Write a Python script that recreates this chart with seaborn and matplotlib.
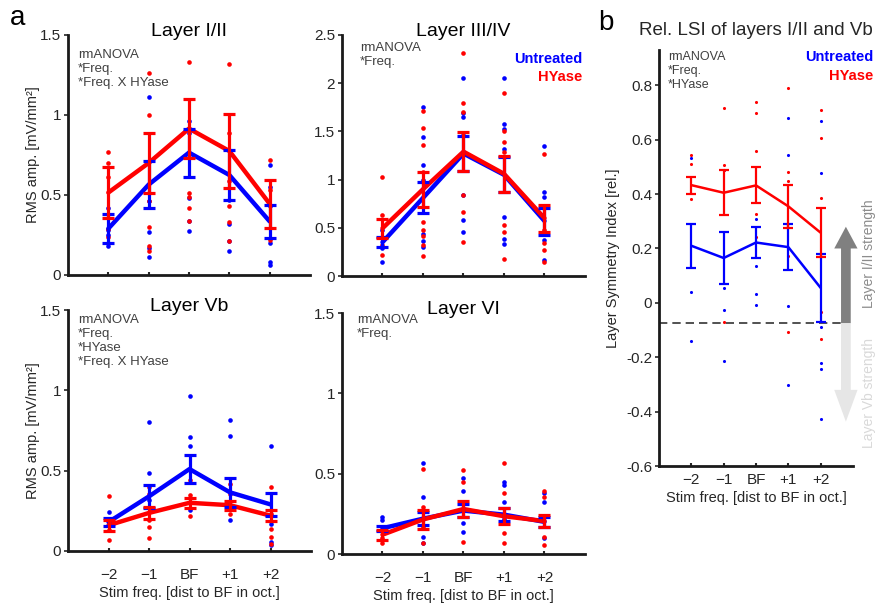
import matplotlib
matplotlib.use("Agg")
import pandas as pd
import matplotlib.pyplot as plt
import seaborn as sns
from matplotlib.patches import FancyArrow

# ===== DATA =====
FREQ_POS = [1, 2, 3, 4, 5]
FREQ_LABELS = ["\u22122", "\u22121", "BF", "+1", "+2"]

# Layer I/II
L12_UNT_MEAN = [0.29, 0.565, 0.765, 0.625, 0.335]
L12_UNT_SEM = [0.09, 0.145, 0.15, 0.155, 0.105]
L12_HYA_MEAN = [0.515, 0.70, 0.915, 0.775, 0.445]
L12_HYA_SEM = [0.16, 0.19, 0.185, 0.23, 0.15]
L12_UNT_PTS = [[0.42, 0.28, 0.25, 0.20, 0.18],
               [1.11, 0.71, 0.51, 0.46, 0.27, 0.17, 0.115],
               [0.96, 0.885, 0.48, 0.34, 0.275],
               [0.78, 0.47, 0.32, 0.21, 0.15],
               [0.69, 0.55, 0.43, 0.20, 0.083, 0.06]]
L12_HYA_PTS = [[0.77, 0.70, 0.61, 0.29, 0.24],
               [1.26, 1.00, 0.46, 0.30, 0.18, 0.15],
               [1.33, 0.51, 0.49, 0.42, 0.34],
               [1.32, 0.885, 0.59, 0.43, 0.33, 0.21],
               [0.72, 0.53, 0.22]]

# Layer III/IV
L34_UNT_MEAN = [0.35, 0.81, 1.27, 1.05, 0.57]
L34_UNT_SEM = [0.05, 0.16, 0.18, 0.18, 0.14]
L34_HYA_MEAN = [0.495, 0.90, 1.29, 1.06, 0.60]
L34_HYA_SEM = [0.10, 0.18, 0.20, 0.19, 0.14]
L34_UNT_PTS = [[0.48, 0.29, 0.15],
               [1.75, 1.44, 1.15, 1.00, 0.44, 0.36, 0.30],
               [2.05, 1.69, 1.65, 1.46, 0.84, 0.58, 0.46],
               [2.05, 1.58, 1.52, 1.32, 0.615, 0.38, 0.33],
               [1.35, 0.87, 0.82, 0.37, 0.166]]
L34_HYA_PTS = [[1.03, 0.63, 0.32, 0.22],
               [1.71, 1.54, 1.36, 1.08, 0.56, 0.48, 0.41, 0.32, 0.21],
               [2.31, 1.79, 1.70, 0.84, 0.66, 0.35],
               [1.90, 1.50, 1.39, 1.29, 0.53, 0.46, 0.18],
               [1.27, 0.48, 0.34, 0.27, 0.15]]

# Layer Vb
LVB_UNT_MEAN = [0.18, 0.34, 0.51, 0.365, 0.29]
LVB_UNT_SEM = [0.025, 0.07, 0.085, 0.09, 0.07]
LVB_HYA_MEAN = [0.16, 0.237, 0.30, 0.285, 0.22]
LVB_HYA_SEM = [0.035, 0.037, 0.03, 0.028, 0.033]
LVB_UNT_PTS = [[0.243, 0.175],
               [0.80, 0.486, 0.316, 0.20],
               [0.966, 0.71, 0.652, 0.253],
               [0.815, 0.715, 0.19],
               [0.652, 0.17, 0.056, 0.035]]
LVB_HYA_PTS = [[0.34, 0.19, 0.13, 0.07],
               [0.40, 0.357, 0.19, 0.15, 0.08],
               [0.44, 0.347, 0.216],
               [0.42, 0.357, 0.233],
               [0.40, 0.233, 0.139, 0.087, 0.046]]

# Layer VI
LVI_UNT_MEAN = [0.16, 0.22, 0.27, 0.245, 0.20]
LVI_UNT_SEM = [0.015, 0.04, 0.04, 0.04, 0.03]
LVI_HYA_MEAN = [0.12, 0.215, 0.28, 0.235, 0.205]
LVI_HYA_SEM = [0.03, 0.06, 0.047, 0.05, 0.04]
LVI_UNT_PTS = [[0.23, 0.21],
               [0.565, 0.353, 0.108, 0.066],
               [0.47, 0.395, 0.19, 0.14],
               [0.45, 0.43, 0.326, 0.216],
               [0.378, 0.326, 0.10]]
LVI_HYA_PTS = [[0.10, 0.066],
               [0.528, 0.295, 0.17, 0.066],
               [0.52, 0.45, 0.077],
               [0.565, 0.378, 0.129, 0.066],
               [0.395, 0.357, 0.108, 0.056]]

# Relative layer symmetry index (panel b)
LSI_UNT_MEAN = [0.21, 0.165, 0.222, 0.205, 0.055]
LSI_UNT_SEM = [0.08, 0.095, 0.057, 0.085, 0.125]
LSI_HYA_MEAN = [0.433, 0.405, 0.432, 0.355, 0.258]
LSI_HYA_SEM = [0.031, 0.082, 0.066, 0.08, 0.09]
LSI_UNT_PTS = [[0.532, 0.04, -0.139],
               [0.49, 0.055, -0.028, -0.213],
               [0.307, 0.136, 0.033, -0.007],
               [0.68, 0.545, -0.01, -0.302],
               [0.67, 0.477, -0.087, -0.22, -0.243, -0.427]]
LSI_HYA_PTS = [[0.545, 0.51, 0.383],
               [0.715, 0.508, 0.49, -0.072],
               [0.737, 0.70, 0.56, 0.325, 0.244],
               [0.79, 0.481, 0.447, 0.173, -0.106],
               [0.71, 0.608, 0.384, -0.032, -0.133]]
LSI_THRESH = -0.075

# ===== STYLE =====
BLUE = "#0000ff"
RED = "#ff0000"
TXT = "#262626"
ANN = "#404040"

sns.set_theme(style="ticks")
plt.rcParams["font.family"] = ["Liberation Sans", "DejaVu Sans"]
plt.rcParams["axes.edgecolor"] = "#1a1a1a"
plt.rcParams["axes.linewidth"] = 2.0

W, H = 878, 606


def points_frame(pts):
    rows = []
    for x, vals in zip(FREQ_POS, pts):
        for v in vals:
            rows.append({"x": x, "y": v})
    return pd.DataFrame(rows)


def draw_group(ax, mean, sem, pts, color, lw, elw, cap, dot):
    sns.scatterplot(data=points_frame(pts), x="x", y="y", color=color, s=dot,
                    linewidth=0, ax=ax, zorder=2)
    sns.lineplot(x=FREQ_POS, y=mean, color=color, lw=lw, ax=ax, zorder=3)
    ax.errorbar(FREQ_POS, mean, yerr=sem, fmt="none", ecolor=color,
                elinewidth=elw, capsize=cap, capthick=elw, zorder=4)


def style_axes(ax, ylim, yticks, show_xlabels):
    sns.despine(ax=ax)
    ax.set_xlim(0, 6)
    ax.set_ylim(*ylim)
    ax.set_xticks(FREQ_POS)
    ax.set_yticks(yticks)
    ax.set_yticklabels([f"{t:g}" for t in yticks])
    ax.tick_params(axis="y", direction="out", length=3, width=1.2,
                   labelsize=11, colors=TXT, pad=2)
    ax.tick_params(axis="x", direction="in", length=2, width=1.5,
                   labelsize=11, colors=TXT, pad=12)
    if show_xlabels:
        ax.set_xticklabels(FREQ_LABELS)
        ax.set_xlabel("Stim freq. [dist to BF in oct.]", fontsize=10.5,
                      color=TXT, labelpad=3)
    else:
        ax.set_xticklabels([])
        ax.set_xlabel("")
    ax.set_ylabel("")


def annotate(lines, x_px, y_px, step_px=14, size=9.5):
    # stats note, positioned in figure pixels (centre of each line)
    for i, s in enumerate(lines):
        fig.text(x_px / W, 1 - (y_px + i * step_px) / H, s, fontsize=size,
                 color=ANN, ha="left", va="center")


def legend_text(x_px, y1_px, y2_px):
    fig.text(x_px / W, 1 - y1_px / H, "Untreated", fontsize=10.5,
             fontweight="bold", color=BLUE, ha="right", va="center")
    fig.text(x_px / W, 1 - y2_px / H, "HYase", fontsize=10.5,
             fontweight="bold", color=RED, ha="right", va="center")


fig = plt.figure(figsize=(W / 100, H / 100), dpi=100)


def px_axes(left, right, top, bottom):
    return fig.add_axes([left / W, 1 - bottom / H, (right - left) / W, (bottom - top) / H])


ax_l12 = px_axes(68, 310, 35, 275)
ax_l34 = px_axes(342, 585, 35, 276)
ax_lvb = px_axes(68, 311, 310, 551)
ax_lvi = px_axes(342, 585, 313, 554)
ax_lsi = px_axes(659, 853, 50, 466)

panels = [
    (ax_l12, "Layer I/II", (L12_UNT_MEAN, L12_UNT_SEM, L12_UNT_PTS),
     (L12_HYA_MEAN, L12_HYA_SEM, L12_HYA_PTS), (0, 1.5), [0, 0.5, 1, 1.5], False),
    (ax_l34, "Layer III/IV", (L34_UNT_MEAN, L34_UNT_SEM, L34_UNT_PTS),
     (L34_HYA_MEAN, L34_HYA_SEM, L34_HYA_PTS), (0, 2.5), [0, 0.5, 1, 1.5, 2, 2.5], False),
    (ax_lvb, "Layer Vb", (LVB_UNT_MEAN, LVB_UNT_SEM, LVB_UNT_PTS),
     (LVB_HYA_MEAN, LVB_HYA_SEM, LVB_HYA_PTS), (0, 1.5), [0, 0.5, 1, 1.5], True),
    (ax_lvi, "Layer VI", (LVI_UNT_MEAN, LVI_UNT_SEM, LVI_UNT_PTS),
     (LVI_HYA_MEAN, LVI_HYA_SEM, LVI_HYA_PTS), (0, 1.5), [0, 0.5, 1, 1.5], True),
]

for ax, title, unt, hya, ylim, yticks, bottom_row in panels:
    draw_group(ax, *unt, BLUE, lw=3.2, elw=2.3, cap=4.5, dot=11)
    draw_group(ax, *hya, RED, lw=3.2, elw=2.3, cap=4.5, dot=11)
    style_axes(ax, ylim, yticks, bottom_row)
    # explicit y keeps matplotlib from lifting the title above the tick label
    ax.set_title(title, fontsize=14, color="black", y=0.995, pad=0)
    if ax in (ax_l12, ax_lvb):
        ax.set_ylabel("RMS amp. [mV/mm\u00b2]", fontsize=10.5, color=TXT, labelpad=0)

annotate(["rmANOVA", "*Freq.", "*Freq. X HYase"], 78, 55)
annotate(["rmANOVA", "*Freq."], 360, 48)
annotate(["rmANOVA", "*Freq.", "*HYase", "*Freq. X HYase"], 78, 320)
annotate(["rmANOVA", "*Freq."], 357, 320)
legend_text(582, 59, 77)

# ----- panel b -----
draw_group(ax_lsi, LSI_UNT_MEAN, LSI_UNT_SEM, LSI_UNT_PTS, BLUE, lw=1.8, elw=1.6, cap=3.5, dot=5)
draw_group(ax_lsi, LSI_HYA_MEAN, LSI_HYA_SEM, LSI_HYA_PTS, RED, lw=1.8, elw=1.6, cap=3.5, dot=5)
style_axes(ax_lsi, (-0.6, 0.93), [-0.6, -0.4, -0.2, 0, 0.2, 0.4, 0.6, 0.8], True)
ax_lsi.tick_params(axis="x", pad=5)
ax_lsi.set_ylabel("Layer Symmetry Index [rel.]", fontsize=10.5, color=TXT, labelpad=4)
ax_lsi.set_title("Rel. LSI of layers I/II and Vb", fontsize=13.5, color=TXT, pad=11)
ax_lsi.axhline(LSI_THRESH, xmin=0, xmax=0.94, color="#333333", lw=1.2,
               ls=(0, (5, 3)), zorder=1)
annotate(["rmANOVA", "*Freq.", "*HYase"], 668, 57, step_px=14, size=9)
legend_text(873, 57, 76)

ax_lsi.add_patch(FancyArrow(5.78, LSI_THRESH, 0, 0.355, width=0.3, head_width=0.72,
                            head_length=0.08, length_includes_head=True,
                            color="#808080", lw=0, clip_on=False, zorder=1))
ax_lsi.add_patch(FancyArrow(5.78, LSI_THRESH, 0, -0.362, width=0.3, head_width=0.72,
                            head_length=0.117, length_includes_head=True,
                            color="#e6e6e6", lw=0, clip_on=False, zorder=1))
ax_lsi.text(6.5, 0.18, "Layer I/II strength", rotation=90, fontsize=10,
            color="#8c8c8c", ha="center", va="center", clip_on=False)
ax_lsi.text(6.5, -0.33, "Layer Vb strength", rotation=90, fontsize=10,
            color="#d9d9d9", ha="center", va="center", clip_on=False)

# ----- panel letters -----
fig.text(10 / W, 1 - 18 / H, "a", fontsize=20, color="black", ha="left", va="center")
fig.text(598 / W, 1 - 23 / H, "b", fontsize=20, color="black", ha="left", va="center")

fig.savefig("out.png", dpi=100)
